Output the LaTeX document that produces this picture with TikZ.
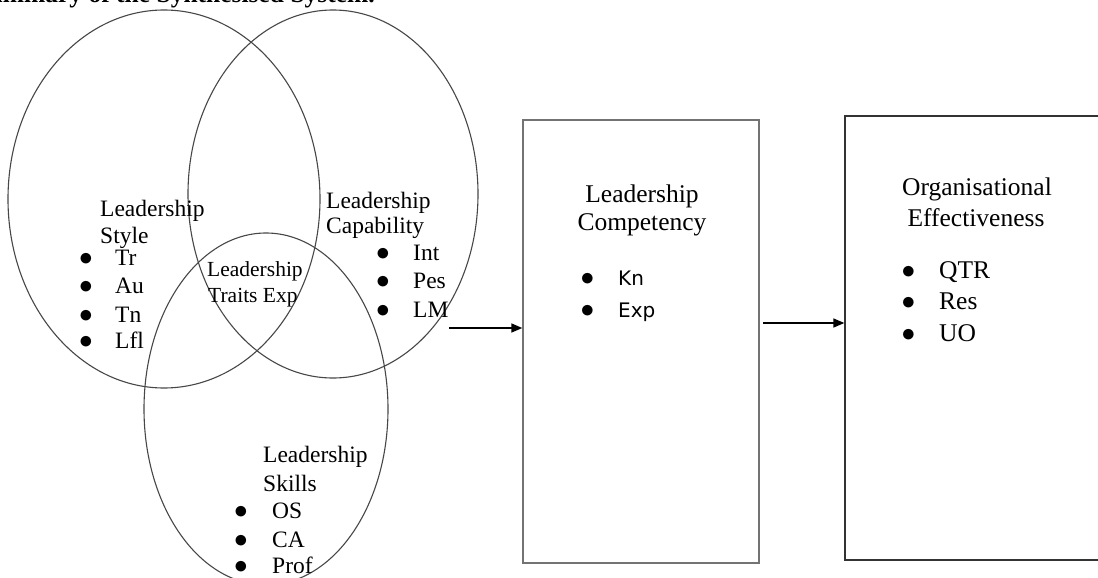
\documentclass[tikz,border=0pt]{standalone}
\usepackage{fontspec}
\setmainfont{Liberation Serif}
\newfontfamily\sansf{DejaVu Sans}
\usetikzlibrary{shapes.geometric,arrows.meta}
\newcommand{\bulw}[1]{\makebox[#1][l]{\scalebox{1.1}{$\bullet$}}}
\begin{document}
\begin{tikzpicture}[x=1pt,y=-1pt,
  venn/.style={draw=black!72, line width=1.1pt, ellipse, inner sep=0pt},
  boxa/.style={draw=black!55, line width=1.4pt, rectangle, inner sep=0pt},
  boxb/.style={draw=black!80, line width=1.3pt, rectangle, inner sep=0pt},
  lbl/.style={anchor=base west, inner sep=0pt, font=\fontsize{23.5}{28}\selectfont},
  lbls/.style={anchor=base west, inner sep=0pt, font=\fontsize{21.5}{26}\selectfont},
  blbl/.style={anchor=base, inner sep=0pt, font=\fontsize{25.5}{30}\selectfont},
  bitem/.style={anchor=base west, inner sep=0pt, font=\fontsize{25.5}{30}\selectfont},
  arr/.style={line width=1.5pt, -{Triangle[length=11pt,width=9pt]}}
]
\useasboundingbox[fill=white] (0,0) rectangle (1098,578);

% title (cut off at top)
\node[anchor=base east, inner sep=0pt, font=\bfseries\fontsize{25.5}{30}\selectfont] (title) at (375,3) {Summary of the Synthesised System.};

% Venn ellipses
\node[venn, minimum width=312pt, minimum height=378pt] (style) at (164,199) {};
\node[venn, minimum width=290pt, minimum height=368pt] (capab) at (333,194) {};
\node[venn, minimum width=244pt, minimum height=352pt] (skills) at (266,409) {};

% Leadership Style
\node[lbl] (st1) at (100,216) {Leadership};
\node[lbl] (st2) at (100,243) {Style};
\node[lbl] (st3) at (79,265) {\bulw{36pt}Tr};
\node[lbl] (st4) at (79,293) {\bulw{36pt}Au};
\node[lbl] (st5) at (79,322) {\bulw{36pt}Tn};
\node[lbl] (st6) at (79,348) {\bulw{36pt}Lfl};

% Leadership Capability
\node[lbl] (ca1) at (326,208) {Leadership};
\node[lbl] (ca2) at (326,233) {Capability};
\node[lbl] (ca3) at (376,260) {\bulw{37pt}Int};
\node[lbl] (ca4) at (376,288) {\bulw{37pt}Pes};
\node[lbl] (ca5) at (376,317) {\bulw{37pt}LM};

% Leadership Traits Exp
\node[lbls] (tr1) at (207,276) {Leadership};
\node[lbls] (tr2) at (208,302) {Traits Exp};

% Leadership Skills
\node[lbl] (sk1) at (263,462) {Leadership};
\node[lbl] (sk2) at (263,491) {Skills};
\node[lbl] (sk3) at (234,518) {\bulw{38pt}OS};
\node[lbl] (sk4) at (234,547) {\bulw{38pt}CA};
\node[lbl] (sk5) at (234,573) {\bulw{38pt}Prof};

% Leadership Competency box
\node[boxa, minimum width=236pt, minimum height=443pt] (comp) at (641,341.5) {};
\node[blbl] (co1) at (642,202) {Leadership};
\node[blbl] (co2) at (642,230) {Competency};
\node[bitem] (co3) at (580.5,285) {\bulw{37.5pt}{\sansf\fontsize{20}{24}\selectfont Kn}};
\node[bitem] (co4) at (580.5,317) {\bulw{37.5pt}{\sansf\fontsize{20}{24}\selectfont Exp}};

% Organisational Effectiveness box
\node[boxb, minimum width=270pt, minimum height=444pt] (eff) at (980,338) {};
\node[blbl] (ef1) at (977,195) {Organisational};
\node[blbl] (ef2) at (976,226) {Effectiveness};
\node[bitem] (ef3) at (901.5,278) {\bulw{37.5pt}QTR};
\node[bitem] (ef4) at (901.5,309) {\bulw{37.5pt}Res};
\node[bitem] (ef5) at (901.5,341) {\bulw{37.5pt}UO};

% arrows
\coordinate (a1) at (449,328);
\draw[arr] (a1) -- (comp.west |- a1);
\coordinate (a2) at (763,323);
\draw[arr] (a2) -- (eff.west |- a2);
\end{tikzpicture}
\end{document}
